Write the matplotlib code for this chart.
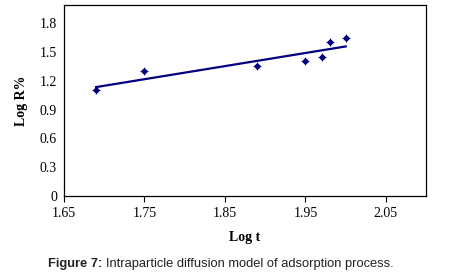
import numpy as np
import matplotlib.pyplot as plt

# data
log_t = [1.69, 1.75, 1.89, 1.95, 1.97, 1.98, 2.00]
log_r = [1.10, 1.30, 1.35, 1.40, 1.45, 1.60, 1.64]
xticks = [1.65, 1.75, 1.85, 1.95, 2.05]
yticks = [0, 0.3, 0.6, 0.9, 1.2, 1.5, 1.8]

navy = '#000080'
serif = 'Liberation Serif'

fig = plt.figure(figsize=(4.5, 2.75), dpi=100)
ax = fig.add_axes([0.142, 0.287, 0.805, 0.696])

# linear trend line
k, b = np.polyfit(log_t, log_r, 1)
xs = np.array([min(log_t), max(log_t)])
ax.plot(xs, k * xs + b, color=navy, lw=1.6)

ax.plot(log_t, log_r, ls='none', marker='D', ms=2.8, color=navy)
ax.plot(log_t, log_r, ls='none', marker='+', ms=6, mew=0.6, color=navy)

ax.set_xlim(1.65, 2.1)
ax.set_ylim(0, 1.99)
ax.set_xticks(xticks)
ax.set_xticklabels([f'{v:.2f}' for v in xticks], fontfamily=serif, fontsize=10)
ax.set_yticks(yticks)
ax.set_yticklabels(['0'] + [f'{v:.1f}' for v in yticks[1:]], fontfamily=serif, fontsize=10)
ax.tick_params(axis='x', direction='out', length=4, width=0.8, pad=4)
ax.tick_params(axis='y', length=0, pad=5)
for s in ax.spines.values():
    s.set_linewidth(0.9)

ax.set_xlabel('Log t', fontfamily=serif, fontweight='bold', fontsize=10, labelpad=8)
ax.set_ylabel('Log R%', fontfamily=serif, fontweight='bold', fontsize=10, labelpad=8)

# caption: bold prefix followed by regular text
t1 = fig.text(48 / 450, 0.03, 'Figure 7:', fontfamily='Liberation Sans', fontweight='bold',
              fontsize=9.3, color='#222222')
r = fig.canvas.get_renderer()
bb = t1.get_window_extent(renderer=r)
fig.text((bb.x1 + 3.5) / 450, 0.03, 'Intraparticle diffusion model of adsorption process.',
         fontfamily='Liberation Sans', fontsize=9.3, color='#222222')

fig.savefig('out.png', dpi=100)
